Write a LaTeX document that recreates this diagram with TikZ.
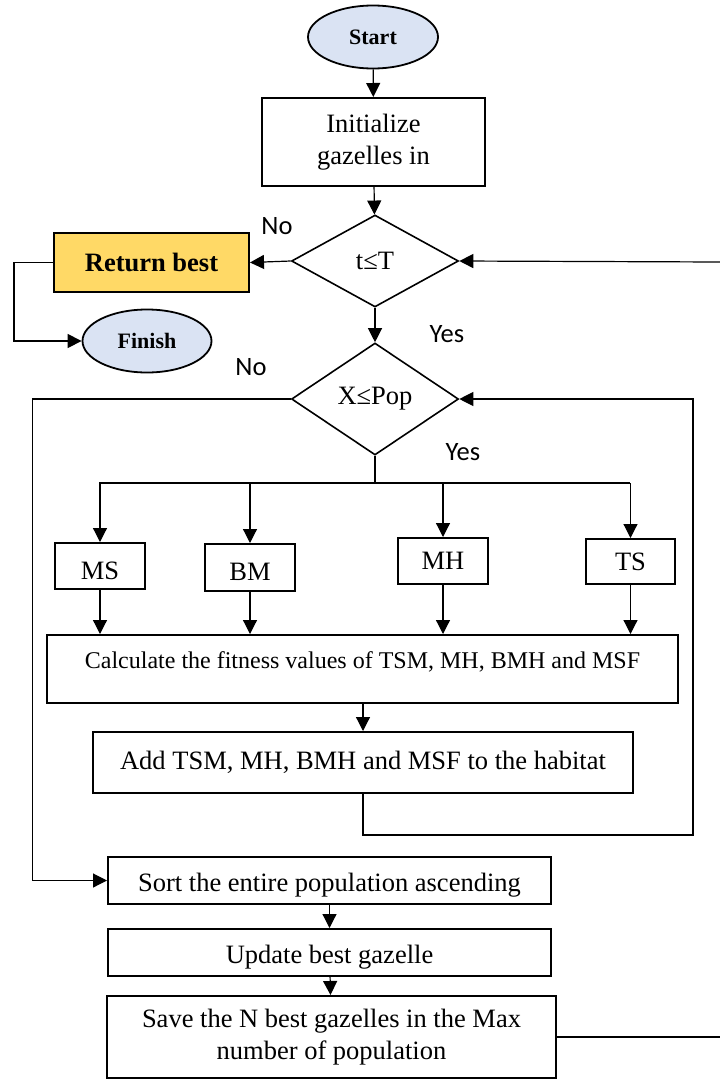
\documentclass[tikz,border=0pt]{standalone}
\usepackage{fontspec}
\setmainfont{Liberation Serif}
\newfontfamily\yesnofont{Carlito}
\usetikzlibrary{arrows.meta,shapes.geometric}
\definecolor{terminal}{HTML}{DAE3F3}
\definecolor{result}{HTML}{FFD966}

\begin{document}
\begin{tikzpicture}[x=1pt,y=-1pt,
  txt/.style={font=\fontsize{26.5}{32}\selectfont},
  box/.style={draw,line width=2pt,inner sep=0pt,align=center,txt},
  low/.style={text height=27pt},
  term/.style={ellipse,draw,line width=1.8pt,fill=terminal,inner sep=0pt,font=\fontsize{22}{26}\selectfont\bfseries},
  cond/.style={diamond,draw,line width=1.6pt,inner sep=0pt,txt},
  arr/.style={line width=1.2pt,-{Triangle[length=14pt,width=14pt]}},
  line/.style={line width=1.2pt},
  yesno/.style={font=\fontsize{26.5}{30}\selectfont\yesnofont}]
  \useasboundingbox (0,0) rectangle (720,1079);

  % Start, init and outer loop test
  \node[term,minimum width=130,minimum height=63] (start) at (373,37) {Start};
  \node[box,minimum width=223,minimum height=88] (init) at (373.5,142) {Initialize\\gazelles in};
  \node[cond,minimum width=167,minimum height=92] (tT) at (375,261) {t≤T};
  \draw[arr] (start) -- (init);
  \draw[arr] (init) -- (tT);

  % Exit branch
  \node[box,fill=result,font=\fontsize{26.5}{32}\selectfont\bfseries,minimum width=195,minimum height=59] (ret) at (151.5,262.5) {Return best};
  \node[term,minimum width=129,minimum height=63] (fin) at (147,341) {Finish};
  \draw[arr] (tT.west) -- (ret.east);
  \draw[arr] (ret.west) -- ++(-39,0) |- (fin.west);
  \node[yesno] (noT) at (277,226) {No};
  \node[yesno] (yesT) at (447,334) {Yes};

  % Inner loop test
  \node[cond,minimum width=167,minimum height=112] (xPop) at (375,399) {X≤Pop};
  \draw[arr] (tT.south) -- (xPop.north);
  \node[yesno] (noX) at (251,367) {No};
  \node[yesno] (yesX) at (463,452) {Yes};

  % Four operators
  \coordinate (busL) at (99,483);
  \coordinate (busR) at (630,483);
  \draw[line] (xPop.south) -- (xPop.south |- busL);
  \draw[line] (busL) -- (busR);
  \node[box,low,minimum width=90,minimum height=46] (ms) at (100,566) {MS};
  \node[box,low,minimum width=90,minimum height=47] (bm) at (250,567.5) {BM};
  \node[box,minimum width=90,minimum height=46] (mh) at (443,561) {MH};
  \node[box,minimum width=89,minimum height=45] (ts) at (630.5,561.5) {TS};
  \foreach \op in {ms,bm,mh,ts} {
    \draw[arr] (\op.north |- busL) -- (\op.north);
  }

  % Fitness and habitat
  \node[box,font=\fontsize{24}{28}\selectfont,text depth=18pt,minimum width=631,minimum height=68] (calc) at (362.5,669) {Calculate the fitness values of TSM, MH, BMH and MSF};
  \foreach \op in {ms,bm,mh,ts} {
    \draw[arr] (\op.south) -- (\op.south |- calc.north);
  }
  \node[box,minimum width=540,minimum height=61] (add) at (363,762.5) {Add TSM, MH, BMH and MSF to the habitat};
  \draw[arr] (calc.south -| add.north) -- (add.north);
  \coordinate (loopR) at (693,835);
  \draw[arr] (add.south) |- (loopR) |- (xPop.east);

  % Sorting and saving
  \node[box,low,minimum width=443,minimum height=47] (sort) at (329.5,880.5) {Sort the entire population ascending};
  \node[box,low,minimum width=443,minimum height=47] (upd) at (329.5,952.5) {Update best gazelle};
  \node[box,minimum width=449,minimum height=82] (save) at (331.5,1037) {Save the N best gazelles in the Max\\number of population};
  \draw[arr] (xPop.west) -- ++(-258,0) |- (sort.west);
  \draw[arr] (sort) -- (upd);
  \draw[arr] (upd) -- (save);

  % Outer loop back to t<=T
  \coordinate (exitR) at (720,1037);
  \coordinate (entryR) at (720,262);
  \draw[line] (save.east) -- (exitR);
  \draw[arr] (entryR) -- (tT.east);
\end{tikzpicture}
\end{document}
